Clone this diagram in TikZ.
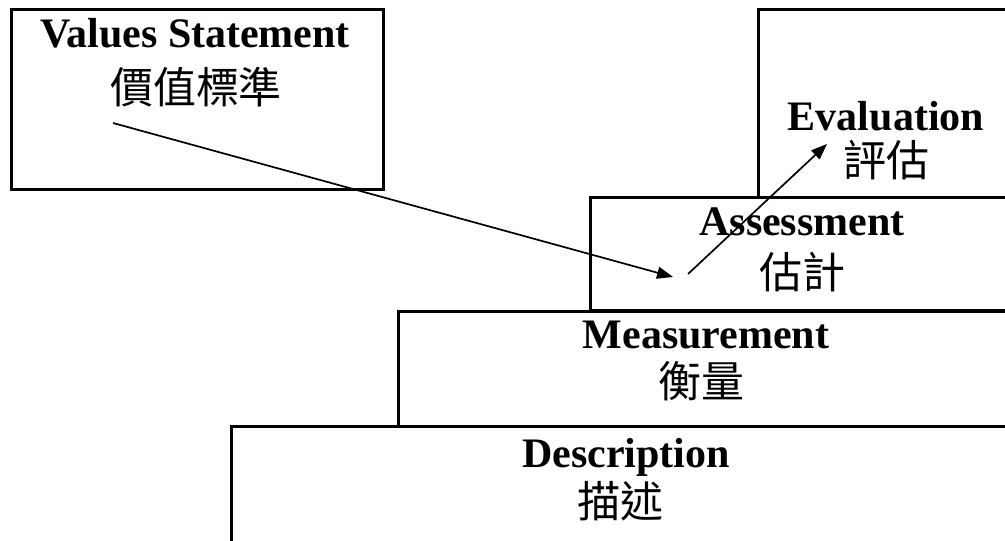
\documentclass[tikz,border=0pt]{standalone}
\usepackage{fontspec}
\setmainfont{Liberation Serif}
\newfontfamily\cjk{Noto Sans CJK TC}
\usetikzlibrary{arrows.meta}
\tikzset{
  box/.style={draw, line width=2.6pt, inner sep=0pt, anchor=north west},
  entext/.style={font=\fontsize{42}{48}\selectfont\bfseries, inner sep=0pt, anchor=base},
  zhtext/.style={font=\fontsize{43}{48}\selectfont\cjk, inner sep=0pt, anchor=center},
  flow/.style={line width=1.7pt, -{Triangle[length=16pt,width=12pt]}}
}
\begin{document}
\begin{tikzpicture}[x=1pt,y=-1pt]
\useasboundingbox (0,0) rectangle (1005,541);
\clip (0,0) rectangle (1005,541);
% boxes
\node[box, minimum width=372pt, minimum height=180pt] (valbox) at (10,8) {};
\node[box, minimum width=270pt, minimum height=188pt] (evalbox) at (757,8) {};
\node[box, minimum width=440pt, minimum height=113pt] (assbox) at (589,196) {};
\node[box, minimum width=640pt, minimum height=115pt] (measbox) at (397,310) {};
\node[box, minimum width=800pt, minimum height=140pt] (descbox) at (230,425) {};
% texts
\node[entext] (valen) at (195,47) {Values Statement};
\node[zhtext] (valzh) at (196,87) {價值標準};
\node[entext] (evalen) at (886,130) {Evaluation};
\node[zhtext] (evalzh) at (886,160) {評估};
\node[entext] (assen) at (802,235) {Assessment};
\node[zhtext] (asszh) at (802,272) {估計};
\node[entext] (measen) at (706,348) {Measurement};
\node[zhtext] (measzh) at (701,381) {衡量};
\node[entext] (descen) at (626,467) {Description};
\node[zhtext] (desczh) at (620,501) {描述};
% arrows
\coordinate (a1s) at (113,123);
\coordinate (a1e) at (673,277);
\coordinate (a2s) at (688,274);
\coordinate (a2e) at (827,144);
\draw[flow] (a1s) -- (a1e);
\draw[flow] (a2s) -- (a2e);
\end{tikzpicture}
\end{document}
